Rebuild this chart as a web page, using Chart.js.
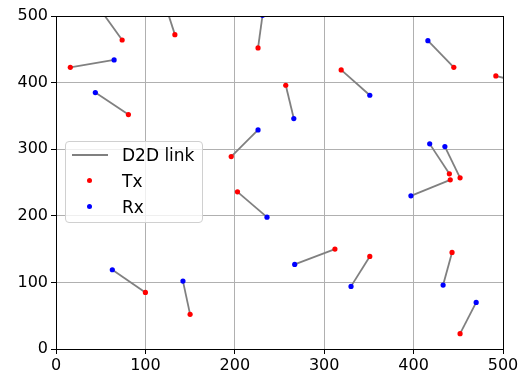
<!DOCTYPE html>
<html>
<head>
<meta charset="utf-8">
<script src="https://cdn.jsdelivr.net/npm/chart.js@4.4.0/dist/chart.umd.min.js"></script>
<style>
  html, body { margin: 0; padding: 0; background: #fff; }
  #wrap { position: relative; width: 529px; height: 375px; }
  #legend {
    position: absolute; left: 65px; top: 141px; width: 136px; height: 80px;
    border: 1px solid #d0d0d0; border-radius: 4px; background: rgba(255,255,255,0.8);
    font-family: "DejaVu Sans", sans-serif; font-size: 17px; color: #000;
  }
  .row { position: absolute; left: 0; height: 20px; line-height: 20px; }
  .lbl { position: absolute; left: 56px; white-space: nowrap; }
  .sample-line { position: absolute; left: 6px; top: 9px; width: 36px; height: 2px; background: #808080; }
  .dot { position: absolute; left: 21px; top: 7px; width: 5px; height: 5px; border-radius: 50%; }
</style>
</head>
<body>
<div id="wrap">
  <canvas id="c" width="529" height="375"></canvas>
  <div id="legend">
    <div class="row" style="top:3px"><div class="sample-line"></div><span class="lbl">D2D link</span></div>
    <div class="row" style="top:29px"><div class="dot" style="background:#ff0000"></div><span class="lbl">Tx</span></div>
    <div class="row" style="top:55px"><div class="dot" style="background:#0000ff"></div><span class="lbl">Rx</span></div>
  </div>
</div>
<script>
const txX = [74, 133, 16, 81, 226, 257, 196, 319, 445, 492, 440, 452, 441, 203, 100, 150, 312, 351, 443, 452];
const txY = [464, 472, 423, 352, 452, 396, 289, 419, 423, 410, 263, 257, 254, 236, 85, 52, 150, 139, 145, 23];
const rxX = [44, 119, 65, 44, 231, 266, 226, 351, 416, 530, 418, 435, 397, 236, 63, 142, 267, 330, 433, 470];
const rxY = [520, 530, 434, 385, 501, 346, 329, 381, 463, 397, 308, 304, 230, 198, 119, 102, 127, 94, 96, 70];
const tickValues = [0, 100, 200, 300, 400, 500];

const datasets = [];
datasets.push({
  label: 'Tx', data: txX.map((x, i) => ({x, y: txY[i]})),
  showLine: false, pointRadius: 2.6, pointBackgroundColor: '#ff0000', pointBorderWidth: 0,
  backgroundColor: '#ff0000', clip: 0, order: 0
});
datasets.push({
  label: 'Rx', data: rxX.map((x, i) => ({x, y: rxY[i]})),
  showLine: false, pointRadius: 2.6, pointBackgroundColor: '#0000ff', pointBorderWidth: 0,
  backgroundColor: '#0000ff', clip: 0, order: 0
});
for (let i = 0; i < txX.length; i++) {
  datasets.push({
    label: 'D2D link',
    data: [{x: txX[i], y: txY[i]}, {x: rxX[i], y: rxY[i]}],
    showLine: true, borderColor: '#808080', borderWidth: 1.8, pointRadius: 0,
    clip: 0, order: 1
  });
}

const frame = {
  id: 'frame',
  afterDraw(chart) {
    const {ctx, chartArea: a} = chart;
    ctx.save();
    ctx.strokeStyle = '#000';
    ctx.lineWidth = 1;
    ctx.strokeRect(Math.round(a.left) + 0.5, Math.round(a.top) + 0.5, Math.round(a.right - a.left), Math.round(a.bottom - a.top));
    ctx.restore();
  }
};

Chart.defaults.font.family = '"DejaVu Sans", sans-serif';
new Chart(document.getElementById('c'), {
  type: 'scatter',
  data: { datasets },
  options: {
    responsive: false, animation: false, events: [],
    layout: { padding: { left: 0, top: 16, right: 26, bottom: 0 } },
    plugins: { legend: { display: false }, tooltip: { enabled: false } },
    scales: {
      x: {
        min: 0, max: 500,
        afterBuildTicks: s => { s.ticks = tickValues.map(v => ({value: v})); },
        afterFit: s => { s.height = 26; },
        grid: { color: '#b0b0b0', lineWidth: 1, tickColor: '#000', tickLength: 5, drawTicks: true },
        border: { display: true, color: '#000', width: 1 },
        ticks: { color: '#000', font: { size: 16 }, padding: 2, maxRotation: 0 }
      },
      y: {
        min: 0, max: 500,
        afterBuildTicks: s => { s.ticks = tickValues.map(v => ({value: v})); },
        afterFit: s => { s.width = 56; },
        grid: { color: '#b0b0b0', lineWidth: 1, tickColor: '#000', tickLength: 5, drawTicks: true },
        border: { display: true, color: '#000', width: 1 },
        ticks: { color: '#000', font: { size: 16 }, padding: 3 }
      }
    }
  },
  plugins: [frame]
});
</script>
</body>
</html>
